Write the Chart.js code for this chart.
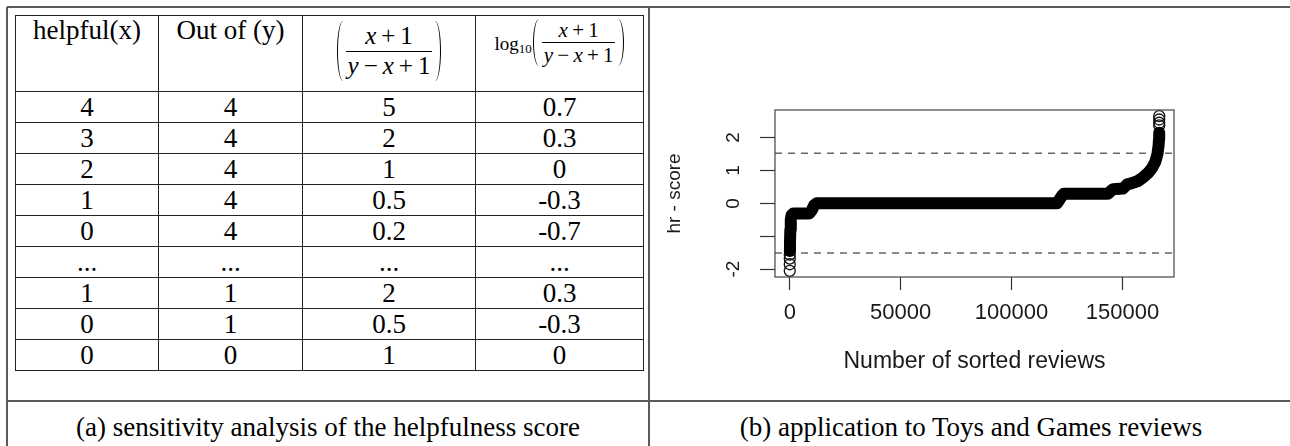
<!DOCTYPE html>
<html>
<head>
<meta charset="utf-8">
<script src="https://cdn.jsdelivr.net/npm/chart.js@4.4.1/dist/chart.umd.min.js"></script>
<style>
html, body { margin: 0; padding: 0; background: #fff; }
body { width: 1290px; height: 446px; position: relative; overflow: hidden;
       font-family: "Liberation Serif", "Times New Roman", serif; color: #000; }
.ln { position: absolute; background: #5a5a5a; }
#tbl { position: absolute; left: 15px; top: 15px; border-collapse: collapse; table-layout: fixed;
       font-size: 27px; }
#tbl td, #tbl th { border: 1px solid #222; padding: 0; text-align: center; font-weight: normal; }
#tbl th { vertical-align: top; height: 75px; }
#tbl td { height: 30px; line-height: 30px; }
.hd { height: 75px; display: flex; justify-content: center; align-items: flex-start; line-height: 28px; }
.eq { display: inline-flex; align-items: center; }
.e3 { font-size: 25px; margin-top: 5px; }
.e4 { font-size: 21px; margin-top: 3px; }
.fr { display: inline-flex; flex-direction: column; align-items: stretch; line-height: 1.05; }
.nu { border-bottom: 1.5px solid #000; text-align: center; padding: 0 2px 1px; }
.de { text-align: center; padding: 1px 2px 0; }
.o { margin: 0 .2em; }
.pl, .pr { width: 6px; }
.e3 .pl, .e3 .pr { height: 60px; }
.e4 .pl, .e4 .pr { height: 47px; }
.pl { border-left: 1.4px solid #000; border-radius: 6px 0 0 6px / 50% 0 0 50%; margin-right: 2px; }
.pr { border-right: 1.4px solid #000; border-radius: 0 6px 6px 0 / 0 50% 50% 0; margin-left: 2px; }
.lg { font-size: 19px; margin-right: 1px; position: relative; top: 4px; }
.lg sub { font-size: 13px; vertical-align: -3px; }
.cap { position: absolute; top: 412px; font-size: 27px; line-height: 30px; text-align: center; }
#plot { position: absolute; left: 650px; top: 0; }
</style>
</head>
<body>

<div class="ln" style="left:7px;top:6px;width:1300px;height:2px"></div>
<div class="ln" style="left:6px;top:7px;width:2px;height:450px"></div>
<div class="ln" style="left:648px;top:7px;width:2px;height:450px"></div>
<div class="ln" style="left:7px;top:400px;width:1300px;height:2px"></div>

<table id="tbl">
  <colgroup><col style="width:143px"><col style="width:144px"><col style="width:173px"><col style="width:168px"></colgroup>
  <thead>
    <tr>
      <th><div class="hd">helpful(x)</div></th>
      <th><div class="hd">Out of (y)</div></th>
      <th><div class="hd"><div class="eq e3"><span class="pl"></span><span class="fr"><span class="nu"><i>x</i><span class="o">+</span>1</span><span class="de"><i>y</i><span class="o">−</span><i>x</i><span class="o">+</span>1</span></span><span class="pr"></span></div></div></th>
      <th><div class="hd"><div class="eq e4"><span class="lg">log<sub>10</sub></span><span class="pl"></span><span class="fr"><span class="nu"><i>x</i><span class="o">+</span>1</span><span class="de"><i>y</i><span class="o">−</span><i>x</i><span class="o">+</span>1</span></span><span class="pr"></span></div></div></th>
    </tr>
  </thead>
  <tbody></tbody>
</table>

<canvas id="plot" width="640" height="400" style="width:640px;height:400px"></canvas>

<div class="cap" style="left:7px;width:642px">(a) sensitivity analysis of the helpfulness score</div>
<div class="cap" style="left:649px;width:644px">(b) application to Toys and Games reviews</div>

<script>
// (a) table values
const helpfulX  = ['4', '3', '2', '1', '0', '...', '1', '0', '0'];
const outOfY    = ['4', '4', '4', '4', '4', '...', '1', '1', '0'];
const ratioVals = ['5', '2', '1', '0.5', '0.2', '...', '2', '0.5', '1'];
const logVals   = ['0.7', '0.3', '0', '-0.3', '-0.7', '...', '0.3', '-0.3', '0'];

// (b) sorted hr-scores
const nReviews = 166600;
const xTicks = [0, 50000, 100000, 150000];
const yTicks = [-2, -1, 0, 1, 2];
const yTickText = ['-2', '', '0', '1', '2'];
const bandX = [0, 100, 250, 450, 800, 1500, 8800, 10000, 11000, 12000,
               120500, 121700, 122600, 123500, 143500, 144700, 145800, 150200, 151300, 152200,
               154000, 157000, 159500, 161800, 163400, 164800, 165800, 166300, 166500, 166600];
const bandY = [-1.45, -1.2, -0.8, -0.5, -0.36, -0.31, -0.31, -0.2, -0.06, 0,
               0, 0.12, 0.22, 0.29, 0.29, 0.37, 0.43, 0.45, 0.52, 0.58,
               0.61, 0.68, 0.8, 0.94, 1.08, 1.26, 1.5, 1.75, 1.95, 2.15];
// sparse extremes, visible as single open circles
const endX = [0, 0, 0, 0, 166600, 166600, 166600, 166600];
const endY = [-2.05, -1.85, -1.68, -1.56, 2.37, 2.45, 2.55, 2.65];
const cutoffs = [1.52, -1.51];

// build the table
const tbody = document.querySelector('#tbl tbody');
helpfulX.forEach((h, i) => {
  const tr = document.createElement('tr');
  [h, outOfY[i], ratioVals[i], logVals[i]].forEach(v => {
    const td = document.createElement('td');
    td.textContent = v;
    tr.appendChild(td);
  });
  tbody.appendChild(tr);
});

// R style axis limits (4% beyond data)
const xMin = 1 - 0.04 * (nReviews - 1);
const xMax = nReviews + 0.04 * (nReviews - 1);
const lo = Math.min(...endY), hi = Math.max(...endY);
const yMin = lo - 0.04 * (hi - lo);
const yMax = hi + 0.04 * (hi - lo);

const sans = '"Liberation Sans", Arial, Helvetica, sans-serif';
const ink = '#1a1a1a';

const boxPlugin = {
  id: 'box',
  afterDatasetsDraw(chart) {
    const {ctx, chartArea: a} = chart;
    ctx.save();
    ctx.strokeStyle = '#444';
    ctx.lineWidth = 1.2;
    ctx.strokeRect(a.left, a.top, a.right - a.left, a.bottom - a.top);
    ctx.restore();
  }
};

new Chart(document.getElementById('plot'), {
  type: 'scatter',
  data: {
    datasets: [
      {
        data: bandX.map((x, i) => ({x, y: bandY[i]})),
        showLine: true, borderColor: '#000', borderWidth: 12, pointRadius: 0,
        borderJoinStyle: 'round', borderCapStyle: 'round', tension: 0
      },
      {
        data: endX.map((x, i) => ({x, y: endY[i]})),
        showLine: false, pointRadius: 5.5, pointBorderWidth: 1.3,
        borderColor: '#111', backgroundColor: 'rgba(0,0,0,0)',
        pointBorderColor: '#111', pointBackgroundColor: 'rgba(0,0,0,0)'
      },
      ...cutoffs.map(c => ({
        data: [{x: xMin, y: c}, {x: xMax, y: c}],
        showLine: true, borderColor: '#666', borderWidth: 1.5, borderDash: [7, 6], pointRadius: 0
      }))
    ]
  },
  options: {
    responsive: false,
    animation: false,
    devicePixelRatio: 1,
    events: [],
    layout: { padding: { top: 110, right: 116, bottom: 0, left: 0 } },
    plugins: { legend: { display: false }, tooltip: { enabled: false } },
    scales: {
      x: {
        type: 'linear', min: xMin, max: xMax,
        afterFit: s => { s.height = 123; },
        afterBuildTicks: s => { s.ticks = xTicks.map(v => ({value: v})); },
        ticks: { autoSkip: false, minRotation: 0, maxRotation: 0, padding: 10, color: ink,
                 font: { family: sans, size: 22 }, callback: v => String(v) },
        grid: { drawOnChartArea: false, drawTicks: true, tickLength: 13, tickColor: '#333', tickWidth: 1.2 },
        border: { display: false },
        title: { display: true, text: 'Number of sorted reviews', color: ink,
                 font: { family: sans, size: 23 }, padding: { top: 0, bottom: 25 } }
      },
      y: {
        type: 'linear', min: yMin, max: yMax,
        afterFit: s => { s.width = 125; },
        afterBuildTicks: s => { s.ticks = yTicks.map(v => ({value: v})); },
        ticks: { autoSkip: false, minRotation: 90, maxRotation: 90, crossAlign: 'center', padding: 18,
                 color: ink, font: { family: sans, size: 19 },
                 callback: v => { const k = yTicks.indexOf(v); return k < 0 ? '' : yTickText[k]; } },
        grid: { drawOnChartArea: false, drawTicks: true, tickLength: 15, tickColor: '#333', tickWidth: 1.2 },
        border: { display: false },
        title: { display: true, text: 'hr - score', color: ink,
                 font: { family: sans, size: 19 }, padding: { top: 13, bottom: 0 } }
      }
    }
  },
  plugins: [boxPlugin]
});
</script>
</body>
</html>
